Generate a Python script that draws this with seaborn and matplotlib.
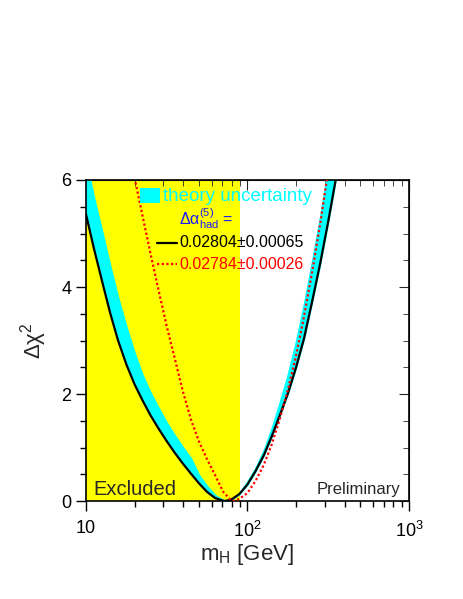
import numpy as np
import pandas as pd
import matplotlib
matplotlib.use('Agg')
import matplotlib.pyplot as plt
import matplotlib.patches as mpatches
import matplotlib.ticker as mticker
import seaborn as sns

# mH grid (GeV) where the black curve and the theory band were read
mh_grid = [10, 11.2, 12.6, 14.1, 15.8, 17.8, 20.0, 22.4, 25.1, 28.2, 31.6, 35.5,
           39.8, 44.7, 50.1, 56.2, 63.1, 70.8, 72.4, 79.4, 89.1, 100, 112, 126,
           141, 158, 178, 200, 224, 251, 282, 316, 355]
# delta chi2 of the black curve (0.02804 +- 0.00065)
chi2_black = [5.36, 4.72, 4.10, 3.52, 3.00, 2.55, 2.18, 1.88, 1.60, 1.35, 1.12, 0.90,
              0.70, 0.51, 0.33, 0.17, 0.055, 0.004, 0.0, 0.026, 0.13, 0.31, 0.555, 0.85,
              1.20, 1.59, 2.01, 2.50, 3.04, 3.72, 4.44, 5.22, 6.07]
# upper edge of the theory uncertainty band
chi2_band = [6.40, 5.68, 5.04, 4.41, 3.81, 3.26, 2.77, 2.36, 2.03, 1.74, 1.47, 1.23,
             1.01, 0.80, 0.49, 0.28, 0.11, 0.02, 0.01, 0.03, 0.15, 0.37, 0.62, 0.95,
             1.36, 1.84, 2.38, 3.00, 3.70, 4.48, 5.33, 6.25, 7.20]

# red dotted curve (0.02784 +- 0.00026)
mh_red = [20.0, 22.4, 25.1, 28.2, 31.6, 35.5, 39.8, 44.7, 50.1, 56.2, 63.1, 70.8,
          79.4, 81.3, 89.1, 100, 112, 126, 141, 158, 178, 200, 224, 251, 282, 316]
chi2_red = [6.04, 5.33, 4.62, 3.93, 3.27, 2.66, 2.05, 1.52, 1.11, 0.78, 0.48, 0.17,
            0.01, 0.0, 0.04, 0.15, 0.37, 0.67, 1.05, 1.52, 2.08, 2.72, 3.45, 4.27, 5.18, 6.17]

excluded_limit = 89.7  # GeV, edge of the yellow region

x_ticks = [10, 100, 1000]
x_ticklabels = ['10', '$10^2$', '$10^3$']
y_ticks = [0, 2, 4, 6]

sns.set_style('ticks')
plt.rcParams['font.family'] = ['Liberation Sans', 'DejaVu Sans']
plt.rcParams['mathtext.fontset'] = 'custom'
plt.rcParams['mathtext.rm'] = 'Liberation Sans'
plt.rcParams['mathtext.it'] = 'Liberation Sans:italic'

black = pd.DataFrame({'mH': mh_grid, 'chi2': chi2_black})
red = pd.DataFrame({'mH': mh_red, 'chi2': chi2_red})

fig = plt.figure(figsize=(4.63, 5.99), dpi=100)
ax = fig.add_axes([0.1857, 0.1636, 0.6976, 0.5359])

ax.axvspan(10, excluded_limit, color='#ffff00', lw=0, zorder=0)

# theory uncertainty band
ax.fill_between(black['mH'], black['chi2'], chi2_band, color='#00ffff',
                ec='#00ffff', lw=1.0, zorder=1)

sns.lineplot(data=black, x='mH', y='chi2', sort=False, estimator=None,
             color='black', lw=1.6, ax=ax, zorder=3)
sns.lineplot(data=red, x='mH', y='chi2', sort=False, estimator=None,
             color='red', lw=1.6, linestyle=(0, (1, 1.1)), ax=ax, zorder=4)

ax.set_xscale('log')
ax.set_xlim(10, 1000)
ax.set_ylim(0, 6)
ax.set_xticks(x_ticks)
ax.set_xticklabels(x_ticklabels)
ax.xaxis.set_minor_locator(mticker.LogLocator(base=10, subs=np.arange(2, 10)))
ax.xaxis.set_minor_formatter(mticker.NullFormatter())
ax.set_yticks(y_ticks)
ax.yaxis.set_minor_locator(mticker.MultipleLocator(0.5))

ax.tick_params(which='both', direction='out', labelsize=13, width=1, colors='black')
ax.tick_params(which='major', length=7)
ax.tick_params(which='minor', length=4)
ax.tick_params(axis='x', pad=7)

# mirrored ticks pointing inwards on top and right
top = ax.secondary_xaxis('top')
top.set_xticks(x_ticks)
top.xaxis.set_minor_locator(mticker.LogLocator(base=10, subs=np.arange(2, 10)))
top.xaxis.set_minor_formatter(mticker.NullFormatter())
top.tick_params(which='both', direction='in', labeltop=False)
top.tick_params(which='major', length=7)
top.tick_params(which='minor', length=4)
right = ax.secondary_yaxis('right')
right.set_yticks(y_ticks)
right.yaxis.set_minor_locator(mticker.MultipleLocator(0.5))
right.tick_params(which='both', direction='in', labelright=False)
right.tick_params(which='major', length=7)
right.tick_params(which='minor', length=4)

for s in ax.spines.values():
    s.set_linewidth(1.2)
    s.set_color('black')

ax.set_xlabel('m$_{\\mathrm{H}}$ [GeV]', fontsize=16, labelpad=1)
ax.set_ylabel('Δχ$^{2}$', fontsize=16, labelpad=9)

# legend drawn by hand
ax.add_patch(mpatches.Rectangle((0.167, 0.928), 0.062, 0.047, transform=ax.transAxes,
                                color='#00ffff', lw=0, zorder=5))
ax.text(0.238, 0.950, 'theory uncertainty', transform=ax.transAxes, color='#00ffff',
        fontsize=13.5, va='center', ha='left', zorder=6)
ax.text(0.288, 0.862, 'Δα$_{\\mathrm{had}}^{(5)}$ =', transform=ax.transAxes, color='#1a1aff',
        fontsize=11.5, va='baseline', ha='left', zorder=6)
ax.plot([0.220, 0.282], [0.804, 0.804], transform=ax.transAxes, color='black', lw=1.6, zorder=6)
ax.text(0.288, 0.804, '0.02804±0.00065', transform=ax.transAxes, color='black',
        fontsize=11.5, va='center', ha='left', zorder=6)
ax.plot([0.220, 0.282], [0.738, 0.738], transform=ax.transAxes, color='red', lw=1.6,
        linestyle=(0, (1, 1.1)), zorder=6)
ax.text(0.288, 0.738, '0.02784±0.00026', transform=ax.transAxes, color='red',
        fontsize=11.5, va='center', ha='left', zorder=6)

ax.text(0.022, 0.019, 'Excluded', transform=ax.transAxes, fontsize=14.5, va='baseline', ha='left')
ax.text(0.972, 0.022, 'Preliminary', transform=ax.transAxes, fontsize=12, va='baseline', ha='right')

fig.savefig('out.png', dpi=100)
